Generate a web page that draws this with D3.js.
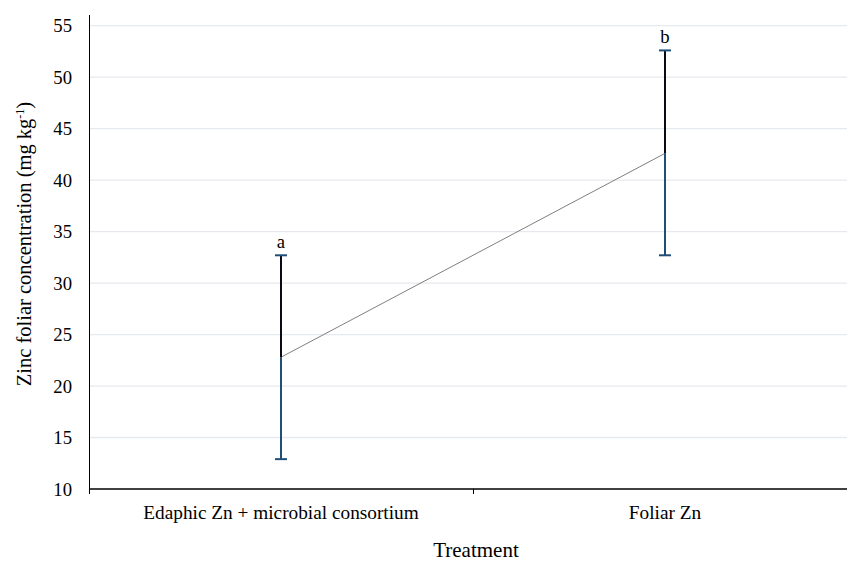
<!DOCTYPE html>
<html>
<head>
<meta charset="utf-8">
<script src="https://cdn.jsdelivr.net/npm/d3@7"></script>
<style>
body { margin: 0; background: #fff; }
svg { display: block; font-family: "Liberation Serif", "Times New Roman", serif; }
</style>
</head>
<body>
<svg width="847" height="563"></svg>
<script>
var categories = ['Edaphic Zn + microbial consortium', 'Foliar Zn'];
var means = [22.8, 42.6];
var upper = [32.7, 52.6];
var lower = [12.9, 32.7];
var letters = ['a', 'b'];
var yTicks = [10, 15, 20, 25, 30, 35, 40, 45, 50, 55];

var svg = d3.select('svg');
var plotLeft = 89, plotTop = 25.7, plotBottom = 489, plotRight = 857;

var x = d3.scaleBand().domain(categories).range([plotLeft, plotRight]);
var y = d3.scaleLinear().domain([10, 55]).range([plotBottom, plotTop]);
var cx = function(d){ return x(d) + x.bandwidth() / 2; };

// gridlines
svg.append('g').selectAll('line').data(yTicks.slice(1)).enter().append('line')
	.attr('x1', plotLeft).attr('x2', 847)
	.attr('y1', function(d){ return y(d); }).attr('y2', function(d){ return y(d); })
	.attr('stroke', '#e6e9ee').attr('stroke-width', 1.3);

// y axis
svg.append('line').attr('x1', plotLeft + 0.5).attr('x2', plotLeft + 0.5).attr('y1', 15).attr('y2', plotBottom)
	.attr('stroke', '#000').attr('stroke-width', 1);
svg.append('g').selectAll('text').data(yTicks).enter().append('text')
	.attr('x', 72).attr('y', function(d){ return y(d); })
	.attr('dy', '0.35em').attr('text-anchor', 'end')
	.attr('font-size', 18.7).text(function(d){ return d; });

// x axis
svg.append('line').attr('x1', plotLeft).attr('x2', 847).attr('y1', plotBottom).attr('y2', plotBottom)
	.attr('stroke', '#000').attr('stroke-width', 1.3);
svg.append('g').selectAll('line').data([plotLeft, x(categories[1])]).enter().append('line')
	.attr('x1', function(d){ return d + 0.5; }).attr('x2', function(d){ return d + 0.5; })
	.attr('y1', plotBottom).attr('y2', plotBottom + 5)
	.attr('stroke', '#000').attr('stroke-width', 1);
svg.append('g').selectAll('text').data(categories).enter().append('text')
	.attr('x', cx).attr('y', 519).attr('text-anchor', 'middle')
	.attr('font-size', 19.3).text(function(d){ return d; });

// axis titles
svg.append('text').attr('x', 476).attr('y', 557).attr('text-anchor', 'middle')
	.attr('font-size', 21).text('Treatment');
var yt = svg.append('text').attr('transform', 'translate(31,244) rotate(-90)')
	.attr('text-anchor', 'middle').attr('font-size', 20.5);
yt.append('tspan').text('Zinc foliar concentration (mg kg');
yt.append('tspan').attr('dy', -7).attr('font-size', 12).text('-1');
yt.append('tspan').attr('dy', 7).text(')');

// line between means
var line = d3.line().x(function(d, i){ return cx(categories[i]); }).y(function(d){ return y(d); });
svg.append('path').datum(means).attr('d', line)
	.attr('fill', 'none').attr('stroke', '#7f7f7f').attr('stroke-width', 1);

// error bars
var eb = svg.append('g').selectAll('g').data(categories).enter().append('g');
eb.append('line')
	.attr('x1', cx).attr('x2', cx)
	.attr('y1', function(d, i){ return y(lower[i]); }).attr('y2', function(d, i){ return y(means[i]); })
	.attr('stroke', '#1f4e79').attr('stroke-width', 2);
eb.append('line')
	.attr('x1', cx).attr('x2', cx)
	.attr('y1', function(d, i){ return y(means[i]); }).attr('y2', function(d, i){ return y(upper[i]); })
	.attr('stroke', '#0a0a14').attr('stroke-width', 2);
eb.append('line')
	.attr('x1', function(d){ return cx(d) - 6; }).attr('x2', function(d){ return cx(d) + 6; })
	.attr('y1', function(d, i){ return y(upper[i]); }).attr('y2', function(d, i){ return y(upper[i]); })
	.attr('stroke', '#1f4e79').attr('stroke-width', 2);
eb.append('line')
	.attr('x1', function(d){ return cx(d) - 6; }).attr('x2', function(d){ return cx(d) + 6; })
	.attr('y1', function(d, i){ return y(lower[i]); }).attr('y2', function(d, i){ return y(lower[i]); })
	.attr('stroke', '#1f4e79').attr('stroke-width', 2);
eb.append('text')
	.attr('x', cx).attr('y', function(d, i){ return y(upper[i]) - 7; })
	.attr('text-anchor', 'middle').attr('font-size', 18.7)
	.text(function(d, i){ return letters[i]; });
</script>
</body>
</html>
